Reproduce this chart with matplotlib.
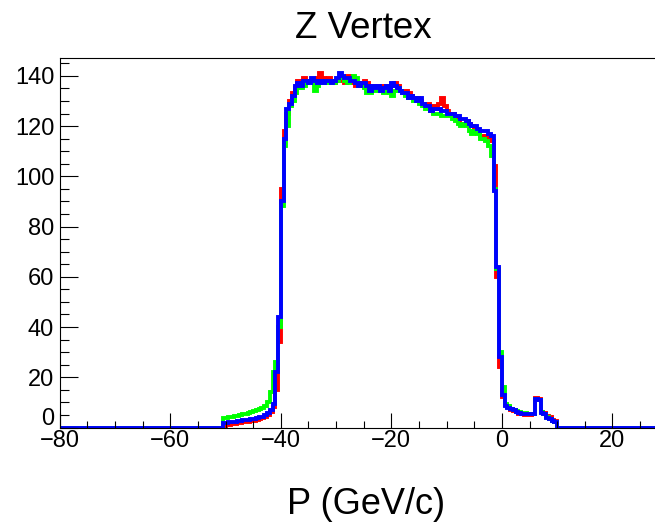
import matplotlib.pyplot as plt
import matplotlib.transforms as mtransforms
import numpy as np

plt.rcParams['font.family'] = ['Liberation Sans', 'DejaVu Sans']

# histogram binning (0.5 wide bins), listed values start at first_edge
bin_width = 0.5
hist_lo, hist_hi = -80.0, 30.0
first_edge = -51.0

blue = [0, 1.6, 1.8, 2.0, 2.1, 2.3, 2.5, 2.6, 2.8, 3.0,
        3.1, 3.3, 3.5, 3.7, 4.0, 4.3, 4.8, 5.6, 7.0, 9.5,
        22, 44, 90, 115, 127, 129, 132, 136, 137, 136,
        138, 138, 137, 139, 138, 137, 138, 137, 138, 138,
        137, 138, 139, 141, 140, 139, 139, 138, 138, 137,
        136, 137, 137, 136, 134, 136, 135, 136, 134, 135,
        136, 134, 137, 136, 135, 134, 133, 133, 131, 132,
        131, 130, 131, 129, 128, 128, 126, 127, 127, 127,
        126, 126, 125, 125, 125, 124, 124, 123, 123, 122,
        121, 120, 120, 119, 118, 118, 118, 117, 116, 94,
        64, 28, 13, 8.5, 7.8, 7.2, 6.8, 6.2, 5.8, 5.5,
        5.4, 5.3, 5.2, 5.5, 11.5, 11.0, 5.8, 5.2, 3.9, 3.5,
        2.4, 2.2, 0, 0]

red = [0, 0.5, 0.8, 1.0, 1.2, 1.4, 1.6, 1.8, 2.0, 2.2,
       2.3, 2.5, 2.7, 3.0, 3.3, 3.6, 4.2, 5.0, 6.0, 8.0,
       15, 34, 95, 118, 125, 130, 133, 135, 138, 137,
       139, 138, 138, 138, 137, 139, 141, 139, 138, 139,
       138, 137, 138, 139, 138, 137, 140, 139, 137, 136,
       137, 137, 138, 137, 135, 136, 136, 135, 136, 135,
       136, 135, 136, 137, 136, 134, 133, 134, 133, 132,
       131, 131, 130, 129, 129, 129, 128, 128, 127, 129,
       131, 128, 126, 125, 125, 124, 122, 121, 121, 122,
       121, 120, 119, 118, 116, 115, 116, 115, 114, 104,
       60, 24, 12, 9, 8, 7.0, 6.5, 6.0, 5.5, 5.2,
       5.0, 4.8, 4.8, 5.4, 11.8, 11.2, 6.2, 5.6, 4.5, 4.0,
       3.0, 2.5, 0, 0]

green = [0, 3.6, 3.9, 4.1, 4.3, 4.5, 4.7, 4.9, 5.2, 5.5,
         5.8, 6.1, 6.4, 6.8, 7.3, 7.9, 8.5, 10, 14, 22,
         26, 40, 88, 112, 120, 128, 130, 133, 136, 135,
         136, 137, 138, 138, 134, 136, 137, 138, 137, 137,
         138, 137, 138, 139, 139, 138, 137, 138, 140, 139,
         136, 136, 135, 133, 133, 135, 134, 135, 134, 133,
         134, 133, 132, 134, 135, 134, 133, 132, 131, 131,
         130, 130, 129, 128, 127, 127, 126, 125, 125, 125,
         124, 124, 124, 124, 123, 122, 121, 120, 121, 120,
         118, 117, 118, 117, 115, 115, 114, 112, 108, 95,
         63, 30, 16, 9.5, 8.5, 7.5, 7.0, 6.5, 6.0, 5.8,
         5.6, 5.5, 5.3, 5.4, 11.2, 10.8, 6.0, 5.3, 4.0, 3.4,
         2.6, 2.2, 0, 0]


def full(vals):
    n_left = int(round((first_edge - hist_lo) / bin_width))
    n_total = int(round((hist_hi - hist_lo) / bin_width))
    n_right = n_total - n_left - len(vals)
    return np.concatenate([np.zeros(n_left), np.array(vals, float), np.zeros(n_right)])


edges = np.arange(hist_lo, hist_hi + bin_width / 2, bin_width)

fig = plt.figure(figsize=(6.55, 5.28), dpi=100)
ax = fig.add_axes([59.7 / 655, 1 - 427.5 / 528, (655 - 59.7) / 655, (427.5 - 58.3) / 528])

for vals, col in [(red, '#ff0000'), (green, '#00ff00'), (blue, '#0000ff')]:
    ax.stairs(full(vals), edges, baseline=None, color=col, lw=2.8)

ax.set_xlim(-80, 27.7)
ax.set_ylim(0, 147)
ax.set_xticks([-80, -60, -40, -20, 0, 20])
ax.set_xticks(np.arange(-80, 28, 5), minor=True)
ax.set_yticks(np.arange(0, 141, 20))
ax.set_yticks(np.arange(0, 147, 5), minor=True)

ax.tick_params(axis='both', which='both', direction='in', width=0.8, colors='black',
               labelsize=17)
ax.tick_params(axis='y', which='major', length=13, pad=4)
ax.tick_params(axis='y', which='minor', length=6.5)
ax.tick_params(axis='x', which='major', length=10.5, pad=2)
ax.tick_params(axis='x', which='minor', length=5.4)
ax.spines['right'].set_visible(False)
for s in ['left', 'bottom', 'top']:
    ax.spines[s].set_linewidth(0.8)

# lift the "0" label like ROOT does so it clears the x labels
zero_lbl = ax.get_yticklabels()[0]
zero_lbl.set_transform(zero_lbl.get_transform() +
                       mtransforms.ScaledTranslation(0, 8 / 72, fig.dpi_scale_trans))

fig.text(363 / 655, 1 - 28 / 528, 'Z Vertex', ha='center', va='center', fontsize=26.5)
fig.text(366 / 655, 1 - 505 / 528, 'P (GeV/c)', ha='center', va='center', fontsize=26)

fig.savefig('out.png', dpi=100)
